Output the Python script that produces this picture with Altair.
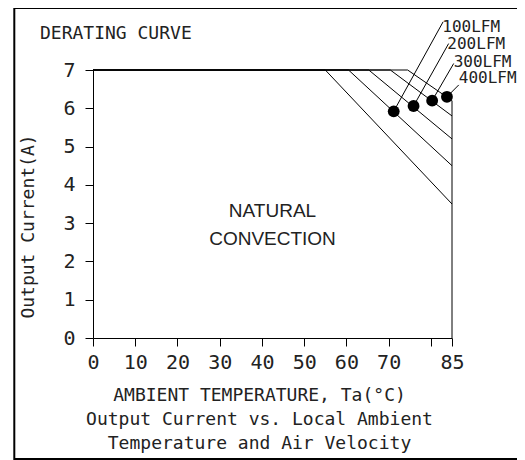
import altair as alt
import pandas as pd

# ---- data ----
curve_names = ["Natural", "100LFM", "200LFM", "300LFM", "400LFM"]
derate_start = [55, 60.5, 65.3, 70.4, 74.5]      # °C where derating starts
end_current = [3.5, 4.5, 5.2, 5.8, 6.2]         # A at 85 °C
max_current = 7
max_temp = 85

dot_labels = ["100LFM", "200LFM", "300LFM", "400LFM"]
dot_temp = [71.2, 75.9, 80.3, 83.8]
dot_current = [5.92, 6.06, 6.2, 6.3]
leader_temp = [82.9, 84.2, 85.4, 86.6]
leader_current = [8.26, 7.69, 7.17, 6.61]
label_temp = [82.7, 83.9, 85.4, 86.6]
label_current = [8.0, 7.56, 7.08, 6.65]

x_ticks = [0, 10, 20, 30, 40, 50, 60, 70, 80, 85]
y_ticks = [0, 1, 2, 3, 4, 5, 6, 7]

region_text = ["NATURAL", "CONVECTION"]
region_temp = [42.5, 42.5]
region_current = [3.17, 2.43]

# ---- tables ----
rows = []
for name, s, e in zip(curve_names, derate_start, end_current):
    pts = [(0, max_current), (s, max_current), (max_temp, e)]
    if name == "400LFM":
        pts.append((max_temp, 0))
    for i, (t, c) in enumerate(pts):
        rows.append({"curve": name, "seq": i, "temp": t, "current": c})
lines_df = pd.DataFrame(rows)

dots_df = pd.DataFrame({
    "label": dot_labels, "temp": dot_temp, "current": dot_current,
    "ltemp": leader_temp, "lcurrent": leader_current,
    "ttemp": label_temp, "tcurrent": label_current,
})
region_df = pd.DataFrame({"text": region_text, "temp": region_temp, "current": region_current})
one = pd.DataFrame({"a": [0]})

MONO = "DejaVu Sans Mono"
INK = "#222222"

x_scale = alt.Scale(domain=[0, 85], nice=False, zero=False)
y_scale = alt.Scale(domain=[0, 7], nice=False)

x_axis = alt.Axis(
    values=x_ticks,
    labelExpr="datum.value == 80 ? '' : datum.label",
    grid=False, domainColor="black", domainWidth=1,
    tickColor="black", tickSize=8, tickWidth=1,
    labelFont=MONO, labelFontSize=20, labelColor=INK, labelPadding=6,
    labelFlush=False, labelOverlap=False,
    title=["AMBIENT TEMPERATURE, Ta(°C)",
           "Output Current vs. Local Ambient",
           "Temperature and Air Velocity"],
    titleFont=MONO, titleFontSize=18, titleFontWeight="normal", titleColor=INK,
    titleX=166, titleY=62, titleAlign="center", titleAnchor="start",
    titleBaseline="alphabetic", titleLineHeight=24,
)
y_axis = alt.Axis(
    values=y_ticks, grid=False, domainColor="black", domainWidth=1,
    tickColor="black", tickSize=8, tickWidth=1,
    labelFont=MONO, labelFontSize=20, labelColor=INK, labelPadding=10,
    labelFlush=False, labelOverlap=False,
    title="Output Current(A)",
    titleFont=MONO, titleFontSize=18, titleFontWeight="normal", titleColor=INK,
    titleX=-60, titleY=156, titleAngle=270, titleAlign="center",
    titleBaseline="alphabetic", titleAnchor="start",
)


def X(field):
    return alt.X(field, type="quantitative", scale=x_scale, axis=x_axis)


def Y(field):
    return alt.Y(field, type="quantitative", scale=y_scale, axis=y_axis)


curves = alt.Chart(lines_df).mark_line(color="black", strokeWidth=1).encode(
    x=X("temp"), y=Y("current"), detail="curve:N", order="seq:Q",
)

leaders = alt.Chart(dots_df).mark_rule(color="black", strokeWidth=1).encode(
    x=X("temp"), y=Y("current"), x2="ltemp:Q", y2="lcurrent:Q",
)

dots = alt.Chart(dots_df).mark_circle(size=140, color="black", opacity=1).encode(
    x=X("temp"), y=Y("current"),
)

dot_text = alt.Chart(dots_df).mark_text(
    align="left", baseline="alphabetic", font=MONO, fontSize=16, color=INK
).encode(x=X("ttemp"), y=Y("tcurrent"), text="label:N")

region = alt.Chart(region_df).mark_text(
    align="center", baseline="alphabetic", font="Liberation Sans", fontSize=19, color=INK
).encode(x=X("temp"), y=Y("current"), text="text:N")

frame = alt.Chart(one).mark_rect(fill=None, stroke="black", strokeWidth=2).encode(
    x=alt.value(-78.7), x2=alt.value(620), y=alt.value(-62), y2=alt.value(389)
)

heading = alt.Chart(one).mark_text(
    align="left", baseline="alphabetic", font=MONO, fontSize=18, color=INK, text="DERATING CURVE"
).encode(x=alt.value(-53), y=alt.value(-30.7))

chart = alt.layer(curves, leaders, dots, dot_text, region, frame, heading).properties(
    width=359, height=268,
    autosize=alt.AutoSizeParams(type="none"),
    padding={"left": 85, "top": 62, "right": 65, "bottom": 122},
).configure_view(stroke=None)

chart.save("out.html", embed_options={"renderer": "svg", "actions": False})
